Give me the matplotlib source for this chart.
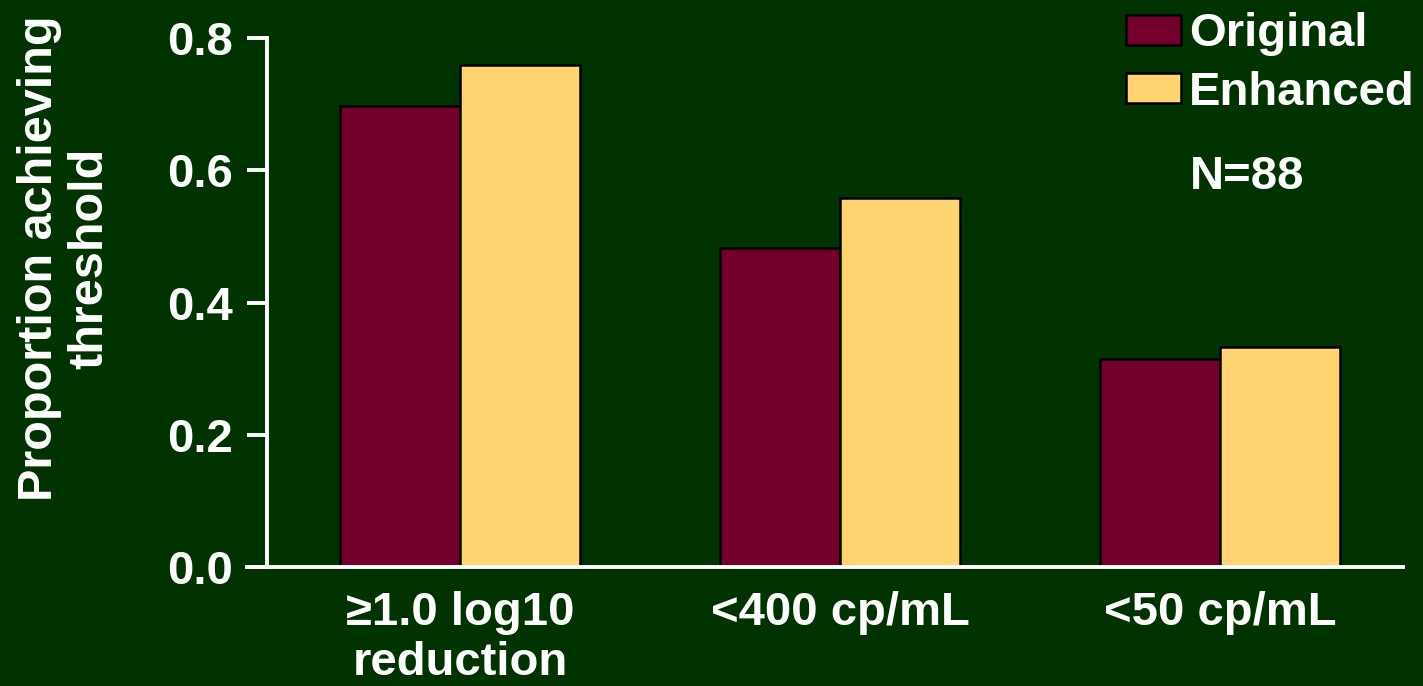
import matplotlib
matplotlib.use("Agg")
import matplotlib.pyplot as plt
import numpy as np

categories = ["≥1.0 log10\nreduction", "<400 cp/mL", "<50 cp/mL"]
original = [0.697, 0.482, 0.315]
enhanced = [0.759, 0.558, 0.333]
series_names = ["Original", "Enhanced"]
yticks = [0.0, 0.2, 0.4, 0.6, 0.8]
ytick_labels = ["0.0", "0.2", "0.4", "0.6", "0.8"]

BG = "#003300"
C_ORIG = "#72002A"
C_ENH = "#FFD471"
FS = 34

plt.rcParams['font.family'] = ['Liberation Sans', 'DejaVu Sans']
plt.rcParams['font.weight'] = 'bold'

W, H = 1423, 686
fig = plt.figure(figsize=(W / 100, H / 100), dpi=100, facecolor=BG)
ax = fig.add_axes([267 / W, 1 - 567 / H, (1403 - 267) / W, (567 - 38) / H])
ax.set_facecolor(BG)

x = np.arange(len(categories))
bw = 120 / 380
ax.bar(x - bw / 2, original, bw, color=C_ORIG, edgecolor="black", linewidth=1.8, label=series_names[0], zorder=2)
ax.bar(x + bw / 2, enhanced, bw, color=C_ENH, edgecolor="black", linewidth=1.8, label=series_names[1], zorder=2)

ax.set_xlim(-0.508, 2.482)
ax.set_ylim(0, 0.8)
ax.set_yticks(yticks)
ax.set_yticklabels(ytick_labels)
ax.set_xticks(x)
ax.set_xticklabels(categories)

for s in ["top", "right"]:
    ax.spines[s].set_visible(False)
for s in ["left", "bottom"]:
    ax.spines[s].set_color("white")
    ax.spines[s].set_linewidth(2.8)
    ax.spines[s].set_zorder(3)
ax.spines["bottom"].set_bounds(-0.508 - 20 / 380, 2.482)
ax.spines["bottom"].set_clip_on(False)

ax.tick_params(axis="y", colors="white", length=14.4, width=2.8, pad=10, labelsize=FS)
ax.tick_params(axis="x", colors="white", length=0, pad=17, labelsize=FS)
for lab in ax.get_xticklabels() + ax.get_yticklabels():
    lab.set_fontweight("bold")
    lab.set_color("white")
for lab in ax.get_xticklabels():
    lab.set_linespacing(1.2)

fig.text(65 / W, 1 - 258 / H, "Proportion achieving\nthreshold", rotation=90,
         ha="center", va="center", color="white", fontsize=35, fontweight="bold",
         linespacing=1.15)

leg = fig.legend(loc="upper left", bbox_to_anchor=(1117 / W, 1 - 3 / H), frameon=False,
                 fontsize=FS, handlelength=1.15, handleheight=0.6, handletextpad=0.18,
                 labelspacing=0.3, borderaxespad=0, borderpad=0.2)
for t in leg.get_texts():
    t.set_color("white")
    t.set_fontweight("bold")

fig.text(1190 / W, 1 - 177 / H, "N=88", ha="left", va="center", color="white",
         fontsize=FS, fontweight="bold")

fig.savefig("out.png", dpi=100, facecolor=BG)
